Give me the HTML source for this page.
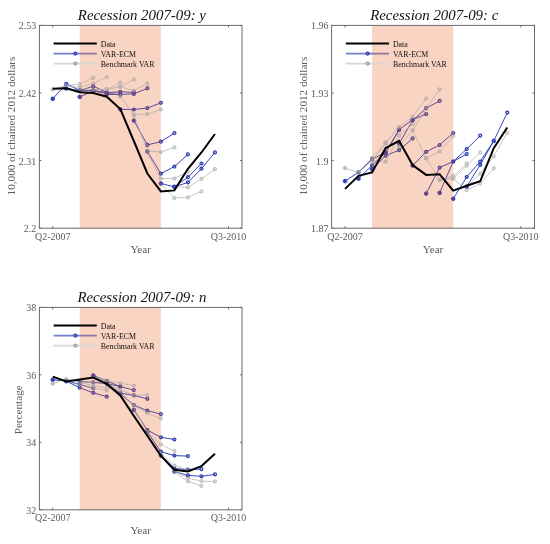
<!DOCTYPE html><html><head><meta charset="utf-8"><style>html,body{margin:0;padding:0;background:#fff;width:550px;height:544px;overflow:hidden}svg{display:block;will-change:transform}text{font-family:"Liberation Serif",serif}</style></head><body>
<svg width="550" height="544" viewBox="0 0 550 544" font-family="Liberation Serif, serif">
<rect width="550" height="544" fill="#fff"/>
<polyline points="52.72,98.80 66.24,83.80 79.76,90.40 93.28,90.50" fill="none" stroke="#3446bf" stroke-width="1"/>
<polyline points="66.24,88.50 79.76,90.60 93.28,86.20 106.80,92.50" fill="none" stroke="#3446bf" stroke-width="1"/>
<polyline points="79.76,96.90 93.28,91.00 106.80,93.60 120.32,94.60" fill="none" stroke="#3446bf" stroke-width="1"/>
<polyline points="93.28,90.40 106.80,92.60 120.32,91.80 133.84,92.40" fill="none" stroke="#3446bf" stroke-width="1"/>
<polyline points="106.80,94.20 120.32,94.40 133.84,93.90 147.36,88.30" fill="none" stroke="#3446bf" stroke-width="1"/>
<polyline points="120.32,109.30 133.84,109.50 147.36,108.10 160.88,102.80" fill="none" stroke="#3446bf" stroke-width="1"/>
<polyline points="133.84,120.60 147.36,144.90 160.88,141.70 174.40,133.10" fill="none" stroke="#3446bf" stroke-width="1"/>
<polyline points="147.36,151.50 160.88,173.70 174.40,166.60 187.92,154.40" fill="none" stroke="#3446bf" stroke-width="1"/>
<polyline points="160.88,183.50 174.40,186.80 187.92,177.20 201.44,163.50" fill="none" stroke="#3446bf" stroke-width="1"/>
<polyline points="174.40,186.80 187.92,182.40 201.44,168.70 214.96,152.40" fill="none" stroke="#3446bf" stroke-width="1"/>
<circle cx="52.72" cy="98.80" r="1.8" fill="#2f3fb0" stroke="#2f3fb0" stroke-width="1"/>
<circle cx="66.24" cy="83.80" r="1.45" fill="none" stroke="#2f3fb0" stroke-width="1.3"/>
<circle cx="79.76" cy="90.40" r="1.45" fill="none" stroke="#2f3fb0" stroke-width="1.3"/>
<circle cx="93.28" cy="90.50" r="1.45" fill="none" stroke="#2f3fb0" stroke-width="1.3"/>
<circle cx="66.24" cy="88.50" r="1.8" fill="#2f3fb0" stroke="#2f3fb0" stroke-width="1"/>
<circle cx="79.76" cy="90.60" r="1.45" fill="none" stroke="#2f3fb0" stroke-width="1.3"/>
<circle cx="93.28" cy="86.20" r="1.45" fill="none" stroke="#2f3fb0" stroke-width="1.3"/>
<circle cx="106.80" cy="92.50" r="1.45" fill="none" stroke="#2f3fb0" stroke-width="1.3"/>
<circle cx="79.76" cy="96.90" r="1.8" fill="#2f3fb0" stroke="#2f3fb0" stroke-width="1"/>
<circle cx="93.28" cy="91.00" r="1.45" fill="none" stroke="#2f3fb0" stroke-width="1.3"/>
<circle cx="106.80" cy="93.60" r="1.45" fill="none" stroke="#2f3fb0" stroke-width="1.3"/>
<circle cx="120.32" cy="94.60" r="1.45" fill="none" stroke="#2f3fb0" stroke-width="1.3"/>
<circle cx="93.28" cy="90.40" r="1.8" fill="#2f3fb0" stroke="#2f3fb0" stroke-width="1"/>
<circle cx="106.80" cy="92.60" r="1.45" fill="none" stroke="#2f3fb0" stroke-width="1.3"/>
<circle cx="120.32" cy="91.80" r="1.45" fill="none" stroke="#2f3fb0" stroke-width="1.3"/>
<circle cx="133.84" cy="92.40" r="1.45" fill="none" stroke="#2f3fb0" stroke-width="1.3"/>
<circle cx="106.80" cy="94.20" r="1.8" fill="#2f3fb0" stroke="#2f3fb0" stroke-width="1"/>
<circle cx="120.32" cy="94.40" r="1.45" fill="none" stroke="#2f3fb0" stroke-width="1.3"/>
<circle cx="133.84" cy="93.90" r="1.45" fill="none" stroke="#2f3fb0" stroke-width="1.3"/>
<circle cx="147.36" cy="88.30" r="1.45" fill="none" stroke="#2f3fb0" stroke-width="1.3"/>
<circle cx="120.32" cy="109.30" r="1.8" fill="#2f3fb0" stroke="#2f3fb0" stroke-width="1"/>
<circle cx="133.84" cy="109.50" r="1.45" fill="none" stroke="#2f3fb0" stroke-width="1.3"/>
<circle cx="147.36" cy="108.10" r="1.45" fill="none" stroke="#2f3fb0" stroke-width="1.3"/>
<circle cx="160.88" cy="102.80" r="1.45" fill="none" stroke="#2f3fb0" stroke-width="1.3"/>
<circle cx="133.84" cy="120.60" r="1.8" fill="#2f3fb0" stroke="#2f3fb0" stroke-width="1"/>
<circle cx="147.36" cy="144.90" r="1.45" fill="none" stroke="#2f3fb0" stroke-width="1.3"/>
<circle cx="160.88" cy="141.70" r="1.45" fill="none" stroke="#2f3fb0" stroke-width="1.3"/>
<circle cx="174.40" cy="133.10" r="1.45" fill="none" stroke="#2f3fb0" stroke-width="1.3"/>
<circle cx="147.36" cy="151.50" r="1.8" fill="#2f3fb0" stroke="#2f3fb0" stroke-width="1"/>
<circle cx="160.88" cy="173.70" r="1.45" fill="none" stroke="#2f3fb0" stroke-width="1.3"/>
<circle cx="174.40" cy="166.60" r="1.45" fill="none" stroke="#2f3fb0" stroke-width="1.3"/>
<circle cx="187.92" cy="154.40" r="1.45" fill="none" stroke="#2f3fb0" stroke-width="1.3"/>
<circle cx="160.88" cy="183.50" r="1.8" fill="#2f3fb0" stroke="#2f3fb0" stroke-width="1"/>
<circle cx="174.40" cy="186.80" r="1.45" fill="none" stroke="#2f3fb0" stroke-width="1.3"/>
<circle cx="187.92" cy="177.20" r="1.45" fill="none" stroke="#2f3fb0" stroke-width="1.3"/>
<circle cx="201.44" cy="163.50" r="1.45" fill="none" stroke="#2f3fb0" stroke-width="1.3"/>
<circle cx="174.40" cy="186.80" r="1.8" fill="#2f3fb0" stroke="#2f3fb0" stroke-width="1"/>
<circle cx="187.92" cy="182.40" r="1.45" fill="none" stroke="#2f3fb0" stroke-width="1.3"/>
<circle cx="201.44" cy="168.70" r="1.45" fill="none" stroke="#2f3fb0" stroke-width="1.3"/>
<circle cx="214.96" cy="152.40" r="1.45" fill="none" stroke="#2f3fb0" stroke-width="1.3"/>
<line x1="53.599999999999994" y1="53.599999999999994" x2="96.8" y2="53.599999999999994" stroke="#6f80d2" stroke-width="1.55"/>
<circle cx="75.4" cy="53.599999999999994" r="1.45" fill="none" stroke="#2f3fb0" stroke-width="1.3"/>
<rect x="79.76" y="25.40" width="81.12" height="202.80" fill="rgb(235,83,15)" fill-opacity="0.25"/>
<g opacity="0.64">
<polyline points="52.72,89.40 66.24,85.60 79.76,84.00 93.28,77.90" fill="none" stroke="#a8a8a8" stroke-width="1"/>
<polyline points="66.24,86.50 79.76,87.10 93.28,83.40 106.80,77.00" fill="none" stroke="#a8a8a8" stroke-width="1"/>
<polyline points="79.76,88.50 93.28,89.70 106.80,89.30 120.32,82.70" fill="none" stroke="#a8a8a8" stroke-width="1"/>
<polyline points="93.28,89.70 106.80,89.30 120.32,86.70 133.84,79.60" fill="none" stroke="#a8a8a8" stroke-width="1"/>
<polyline points="106.80,89.30 120.32,86.70 133.84,90.60 147.36,83.70" fill="none" stroke="#a8a8a8" stroke-width="1"/>
<polyline points="120.32,96.30 133.84,114.50 147.36,114.10 160.88,109.50" fill="none" stroke="#a8a8a8" stroke-width="1"/>
<polyline points="133.84,115.10 147.36,150.90 160.88,152.10 174.40,147.40" fill="none" stroke="#a8a8a8" stroke-width="1"/>
<polyline points="147.36,152.70 160.88,178.50 174.40,178.50 187.92,171.80" fill="none" stroke="#a8a8a8" stroke-width="1"/>
<polyline points="160.88,183.50 174.40,198.00 187.92,197.30 201.44,191.30" fill="none" stroke="#a8a8a8" stroke-width="1"/>
<polyline points="174.40,186.80 187.92,187.40 201.44,178.80 214.96,169.20" fill="none" stroke="#a8a8a8" stroke-width="1"/>
<circle cx="52.72" cy="89.40" r="1.8" fill="#9c9c9c" stroke="#9c9c9c" stroke-width="1"/>
<circle cx="66.24" cy="85.60" r="1.45" fill="none" stroke="#9c9c9c" stroke-width="1.3"/>
<circle cx="79.76" cy="84.00" r="1.45" fill="none" stroke="#9c9c9c" stroke-width="1.3"/>
<circle cx="93.28" cy="77.90" r="1.45" fill="none" stroke="#9c9c9c" stroke-width="1.3"/>
<circle cx="79.76" cy="87.10" r="1.45" fill="none" stroke="#9c9c9c" stroke-width="1.3"/>
<circle cx="93.28" cy="83.40" r="1.45" fill="none" stroke="#9c9c9c" stroke-width="1.3"/>
<circle cx="106.80" cy="77.00" r="1.45" fill="none" stroke="#9c9c9c" stroke-width="1.3"/>
<circle cx="79.76" cy="88.50" r="1.8" fill="#9c9c9c" stroke="#9c9c9c" stroke-width="1"/>
<circle cx="93.28" cy="89.70" r="1.45" fill="none" stroke="#9c9c9c" stroke-width="1.3"/>
<circle cx="106.80" cy="89.30" r="1.45" fill="none" stroke="#9c9c9c" stroke-width="1.3"/>
<circle cx="120.32" cy="82.70" r="1.45" fill="none" stroke="#9c9c9c" stroke-width="1.3"/>
<circle cx="106.80" cy="89.30" r="1.45" fill="none" stroke="#9c9c9c" stroke-width="1.3"/>
<circle cx="120.32" cy="86.70" r="1.45" fill="none" stroke="#9c9c9c" stroke-width="1.3"/>
<circle cx="133.84" cy="79.60" r="1.45" fill="none" stroke="#9c9c9c" stroke-width="1.3"/>
<circle cx="106.80" cy="89.30" r="1.8" fill="#9c9c9c" stroke="#9c9c9c" stroke-width="1"/>
<circle cx="120.32" cy="86.70" r="1.45" fill="none" stroke="#9c9c9c" stroke-width="1.3"/>
<circle cx="133.84" cy="90.60" r="1.45" fill="none" stroke="#9c9c9c" stroke-width="1.3"/>
<circle cx="147.36" cy="83.70" r="1.45" fill="none" stroke="#9c9c9c" stroke-width="1.3"/>
<circle cx="120.32" cy="96.30" r="1.8" fill="#9c9c9c" stroke="#9c9c9c" stroke-width="1"/>
<circle cx="133.84" cy="114.50" r="1.45" fill="none" stroke="#9c9c9c" stroke-width="1.3"/>
<circle cx="147.36" cy="114.10" r="1.45" fill="none" stroke="#9c9c9c" stroke-width="1.3"/>
<circle cx="160.88" cy="109.50" r="1.45" fill="none" stroke="#9c9c9c" stroke-width="1.3"/>
<circle cx="133.84" cy="115.10" r="1.8" fill="#9c9c9c" stroke="#9c9c9c" stroke-width="1"/>
<circle cx="147.36" cy="150.90" r="1.45" fill="none" stroke="#9c9c9c" stroke-width="1.3"/>
<circle cx="160.88" cy="152.10" r="1.45" fill="none" stroke="#9c9c9c" stroke-width="1.3"/>
<circle cx="174.40" cy="147.40" r="1.45" fill="none" stroke="#9c9c9c" stroke-width="1.3"/>
<circle cx="160.88" cy="178.50" r="1.45" fill="none" stroke="#9c9c9c" stroke-width="1.3"/>
<circle cx="174.40" cy="178.50" r="1.45" fill="none" stroke="#9c9c9c" stroke-width="1.3"/>
<circle cx="187.92" cy="171.80" r="1.45" fill="none" stroke="#9c9c9c" stroke-width="1.3"/>
<circle cx="174.40" cy="198.00" r="1.45" fill="none" stroke="#9c9c9c" stroke-width="1.3"/>
<circle cx="187.92" cy="197.30" r="1.45" fill="none" stroke="#9c9c9c" stroke-width="1.3"/>
<circle cx="201.44" cy="191.30" r="1.45" fill="none" stroke="#9c9c9c" stroke-width="1.3"/>
<circle cx="187.92" cy="187.40" r="1.45" fill="none" stroke="#9c9c9c" stroke-width="1.3"/>
<circle cx="201.44" cy="178.80" r="1.45" fill="none" stroke="#9c9c9c" stroke-width="1.3"/>
<circle cx="214.96" cy="169.20" r="1.45" fill="none" stroke="#9c9c9c" stroke-width="1.3"/>
</g>
<line x1="53.599999999999994" y1="63.599999999999994" x2="96.8" y2="63.599999999999994" stroke="#d6d6d6" stroke-width="1.6"/>
<circle cx="75.4" cy="63.599999999999994" r="1.45" fill="none" stroke="#9c9c9c" stroke-width="1.3"/>
<polyline points="52.72,88.80 66.24,88.20 79.76,92.20 93.28,93.00 106.80,96.70 120.32,109.10 133.84,141.00 147.36,173.50 160.88,191.40 174.40,190.40 187.92,168.80 201.44,152.50 214.96,134.00" fill="none" stroke="#000" stroke-width="2.0" stroke-linejoin="miter"/>
<line x1="53.599999999999994" y1="43.599999999999994" x2="96.8" y2="43.599999999999994" stroke="#000" stroke-width="2"/>
<text x="100.69999999999999" y="46.60" font-size="7.9" fill="#111">Data</text>
<text x="100.69999999999999" y="56.60" font-size="7.9" fill="#111">VAR-ECM</text>
<text x="100.69999999999999" y="66.60" font-size="7.9" fill="#111">Benchmark VAR</text>
<rect x="39.40" y="25.40" width="202.60" height="202.80" fill="none" stroke="#6a6a6a" stroke-width="1"/>
<line x1="39.4" y1="228.20" x2="41.4" y2="228.20" stroke="#6a6a6a" stroke-width="1"/>
<line x1="242.0" y1="228.20" x2="240.0" y2="228.20" stroke="#6a6a6a" stroke-width="1"/>
<line x1="39.4" y1="160.60" x2="41.4" y2="160.60" stroke="#6a6a6a" stroke-width="1"/>
<line x1="242.0" y1="160.60" x2="240.0" y2="160.60" stroke="#6a6a6a" stroke-width="1"/>
<line x1="39.4" y1="93.00" x2="41.4" y2="93.00" stroke="#6a6a6a" stroke-width="1"/>
<line x1="242.0" y1="93.00" x2="240.0" y2="93.00" stroke="#6a6a6a" stroke-width="1"/>
<line x1="39.4" y1="25.40" x2="41.4" y2="25.40" stroke="#6a6a6a" stroke-width="1"/>
<line x1="242.0" y1="25.40" x2="240.0" y2="25.40" stroke="#6a6a6a" stroke-width="1"/>
<line x1="52.72" y1="228.2" x2="52.72" y2="226.2" stroke="#6a6a6a" stroke-width="1"/>
<line x1="52.72" y1="25.4" x2="52.72" y2="27.4" stroke="#6a6a6a" stroke-width="1"/>
<line x1="228.48" y1="228.2" x2="228.48" y2="226.2" stroke="#6a6a6a" stroke-width="1"/>
<line x1="228.48" y1="25.4" x2="228.48" y2="27.4" stroke="#6a6a6a" stroke-width="1"/>
<text x="36.20" y="232.10" font-size="10" fill="#5c5c5c" text-anchor="end">2.2</text>
<text x="36.20" y="164.50" font-size="10" fill="#5c5c5c" text-anchor="end">2.31</text>
<text x="36.20" y="96.90" font-size="10" fill="#5c5c5c" text-anchor="end">2.42</text>
<text x="36.20" y="29.30" font-size="10" fill="#5c5c5c" text-anchor="end">2.53</text>
<text x="52.72" y="239.80" font-size="10" fill="#5c5c5c" text-anchor="middle">Q2-2007</text>
<text x="228.48" y="239.80" font-size="10" fill="#5c5c5c" text-anchor="middle">Q3-2010</text>
<text x="140.70" y="252.80" font-size="11.2" fill="#5c5c5c" text-anchor="middle">Year</text>
<text transform="translate(14.80,126.00) rotate(-90)" x="0" y="0" font-size="11.2" fill="#5c5c5c" text-anchor="middle">10,000 of chained 2012 dollars</text>
<text x="141.90" y="19.50" font-size="14.9" font-style="italic" fill="#111" text-anchor="middle">Recession 2007-09: y</text>
<polyline points="345.02,181.10 358.54,172.40 372.06,159.20 385.58,152.50" fill="none" stroke="#3446bf" stroke-width="1"/>
<polyline points="358.54,178.70 372.06,165.40 385.58,152.50 399.10,130.00" fill="none" stroke="#3446bf" stroke-width="1"/>
<polyline points="372.06,169.10 385.58,155.70 399.10,150.20 412.62,138.40" fill="none" stroke="#3446bf" stroke-width="1"/>
<polyline points="385.58,152.60 399.10,129.70 412.62,119.60 426.14,114.10" fill="none" stroke="#3446bf" stroke-width="1"/>
<polyline points="399.10,143.50 412.62,120.50 426.14,108.20 439.66,100.90" fill="none" stroke="#3446bf" stroke-width="1"/>
<polyline points="412.62,165.60 426.14,151.80 439.66,145.00 453.18,133.00" fill="none" stroke="#3446bf" stroke-width="1"/>
<polyline points="426.14,193.60 439.66,167.60 453.18,161.50 466.70,154.10" fill="none" stroke="#3446bf" stroke-width="1"/>
<polyline points="439.66,192.90 453.18,161.50 466.70,149.10 480.22,135.60" fill="none" stroke="#3446bf" stroke-width="1"/>
<polyline points="453.18,198.80 466.70,177.00 480.22,161.50 493.74,140.90" fill="none" stroke="#3446bf" stroke-width="1"/>
<polyline points="466.70,186.60 480.22,164.80 493.74,140.90 507.26,112.60" fill="none" stroke="#3446bf" stroke-width="1"/>
<circle cx="345.02" cy="181.10" r="1.8" fill="#2f3fb0" stroke="#2f3fb0" stroke-width="1"/>
<circle cx="358.54" cy="172.40" r="1.45" fill="none" stroke="#2f3fb0" stroke-width="1.3"/>
<circle cx="372.06" cy="159.20" r="1.45" fill="none" stroke="#2f3fb0" stroke-width="1.3"/>
<circle cx="385.58" cy="152.50" r="1.45" fill="none" stroke="#2f3fb0" stroke-width="1.3"/>
<circle cx="358.54" cy="178.70" r="1.8" fill="#2f3fb0" stroke="#2f3fb0" stroke-width="1"/>
<circle cx="372.06" cy="165.40" r="1.45" fill="none" stroke="#2f3fb0" stroke-width="1.3"/>
<circle cx="385.58" cy="152.50" r="1.45" fill="none" stroke="#2f3fb0" stroke-width="1.3"/>
<circle cx="399.10" cy="130.00" r="1.45" fill="none" stroke="#2f3fb0" stroke-width="1.3"/>
<circle cx="372.06" cy="169.10" r="1.8" fill="#2f3fb0" stroke="#2f3fb0" stroke-width="1"/>
<circle cx="385.58" cy="155.70" r="1.45" fill="none" stroke="#2f3fb0" stroke-width="1.3"/>
<circle cx="399.10" cy="150.20" r="1.45" fill="none" stroke="#2f3fb0" stroke-width="1.3"/>
<circle cx="412.62" cy="138.40" r="1.45" fill="none" stroke="#2f3fb0" stroke-width="1.3"/>
<circle cx="385.58" cy="152.60" r="1.8" fill="#2f3fb0" stroke="#2f3fb0" stroke-width="1"/>
<circle cx="399.10" cy="129.70" r="1.45" fill="none" stroke="#2f3fb0" stroke-width="1.3"/>
<circle cx="412.62" cy="119.60" r="1.45" fill="none" stroke="#2f3fb0" stroke-width="1.3"/>
<circle cx="426.14" cy="114.10" r="1.45" fill="none" stroke="#2f3fb0" stroke-width="1.3"/>
<circle cx="399.10" cy="143.50" r="1.8" fill="#2f3fb0" stroke="#2f3fb0" stroke-width="1"/>
<circle cx="412.62" cy="120.50" r="1.45" fill="none" stroke="#2f3fb0" stroke-width="1.3"/>
<circle cx="426.14" cy="108.20" r="1.45" fill="none" stroke="#2f3fb0" stroke-width="1.3"/>
<circle cx="439.66" cy="100.90" r="1.45" fill="none" stroke="#2f3fb0" stroke-width="1.3"/>
<circle cx="412.62" cy="165.60" r="1.8" fill="#2f3fb0" stroke="#2f3fb0" stroke-width="1"/>
<circle cx="426.14" cy="151.80" r="1.45" fill="none" stroke="#2f3fb0" stroke-width="1.3"/>
<circle cx="439.66" cy="145.00" r="1.45" fill="none" stroke="#2f3fb0" stroke-width="1.3"/>
<circle cx="453.18" cy="133.00" r="1.45" fill="none" stroke="#2f3fb0" stroke-width="1.3"/>
<circle cx="426.14" cy="193.60" r="1.8" fill="#2f3fb0" stroke="#2f3fb0" stroke-width="1"/>
<circle cx="439.66" cy="167.60" r="1.45" fill="none" stroke="#2f3fb0" stroke-width="1.3"/>
<circle cx="453.18" cy="161.50" r="1.45" fill="none" stroke="#2f3fb0" stroke-width="1.3"/>
<circle cx="466.70" cy="154.10" r="1.45" fill="none" stroke="#2f3fb0" stroke-width="1.3"/>
<circle cx="439.66" cy="192.90" r="1.8" fill="#2f3fb0" stroke="#2f3fb0" stroke-width="1"/>
<circle cx="453.18" cy="161.50" r="1.45" fill="none" stroke="#2f3fb0" stroke-width="1.3"/>
<circle cx="466.70" cy="149.10" r="1.45" fill="none" stroke="#2f3fb0" stroke-width="1.3"/>
<circle cx="480.22" cy="135.60" r="1.45" fill="none" stroke="#2f3fb0" stroke-width="1.3"/>
<circle cx="453.18" cy="198.80" r="1.8" fill="#2f3fb0" stroke="#2f3fb0" stroke-width="1"/>
<circle cx="466.70" cy="177.00" r="1.45" fill="none" stroke="#2f3fb0" stroke-width="1.3"/>
<circle cx="480.22" cy="161.50" r="1.45" fill="none" stroke="#2f3fb0" stroke-width="1.3"/>
<circle cx="493.74" cy="140.90" r="1.45" fill="none" stroke="#2f3fb0" stroke-width="1.3"/>
<circle cx="466.70" cy="186.60" r="1.8" fill="#2f3fb0" stroke="#2f3fb0" stroke-width="1"/>
<circle cx="480.22" cy="164.80" r="1.45" fill="none" stroke="#2f3fb0" stroke-width="1.3"/>
<circle cx="493.74" cy="140.90" r="1.45" fill="none" stroke="#2f3fb0" stroke-width="1.3"/>
<circle cx="507.26" cy="112.60" r="1.45" fill="none" stroke="#2f3fb0" stroke-width="1.3"/>
<line x1="345.8" y1="53.599999999999994" x2="389.0" y2="53.599999999999994" stroke="#6f80d2" stroke-width="1.55"/>
<circle cx="367.6" cy="53.599999999999994" r="1.45" fill="none" stroke="#2f3fb0" stroke-width="1.3"/>
<rect x="372.06" y="25.40" width="81.12" height="202.80" fill="rgb(235,83,15)" fill-opacity="0.25"/>
<g opacity="0.64">
<polyline points="345.02,168.00 358.54,172.50 372.06,160.80 385.58,143.30" fill="none" stroke="#a8a8a8" stroke-width="1"/>
<polyline points="358.54,172.00 372.06,157.80 385.58,143.30 399.10,127.00" fill="none" stroke="#a8a8a8" stroke-width="1"/>
<polyline points="372.06,160.80 385.58,161.70 399.10,135.50 412.62,124.20" fill="none" stroke="#a8a8a8" stroke-width="1"/>
<polyline points="385.58,142.60 399.10,127.00 412.62,116.90 426.14,98.50" fill="none" stroke="#a8a8a8" stroke-width="1"/>
<polyline points="399.10,146.50 412.62,130.30 426.14,108.60 439.66,89.30" fill="none" stroke="#a8a8a8" stroke-width="1"/>
<polyline points="412.62,130.30 426.14,158.20 439.66,151.50 453.18,136.20" fill="none" stroke="#a8a8a8" stroke-width="1"/>
<polyline points="426.14,158.20 439.66,180.00 453.18,176.20 466.70,163.40" fill="none" stroke="#a8a8a8" stroke-width="1"/>
<polyline points="439.66,180.00 453.18,178.50 466.70,165.70 480.22,152.40" fill="none" stroke="#a8a8a8" stroke-width="1"/>
<polyline points="453.18,178.50 466.70,190.00 480.22,183.60 493.74,168.40" fill="none" stroke="#a8a8a8" stroke-width="1"/>
<polyline points="466.70,187.00 480.22,173.60 493.74,156.40 507.26,132.80" fill="none" stroke="#a8a8a8" stroke-width="1"/>
<circle cx="345.02" cy="168.00" r="1.8" fill="#9c9c9c" stroke="#9c9c9c" stroke-width="1"/>
<circle cx="358.54" cy="172.50" r="1.45" fill="none" stroke="#9c9c9c" stroke-width="1.3"/>
<circle cx="372.06" cy="160.80" r="1.45" fill="none" stroke="#9c9c9c" stroke-width="1.3"/>
<circle cx="385.58" cy="143.30" r="1.45" fill="none" stroke="#9c9c9c" stroke-width="1.3"/>
<circle cx="358.54" cy="172.00" r="1.8" fill="#9c9c9c" stroke="#9c9c9c" stroke-width="1"/>
<circle cx="372.06" cy="157.80" r="1.45" fill="none" stroke="#9c9c9c" stroke-width="1.3"/>
<circle cx="385.58" cy="143.30" r="1.45" fill="none" stroke="#9c9c9c" stroke-width="1.3"/>
<circle cx="399.10" cy="127.00" r="1.45" fill="none" stroke="#9c9c9c" stroke-width="1.3"/>
<circle cx="372.06" cy="160.80" r="1.8" fill="#9c9c9c" stroke="#9c9c9c" stroke-width="1"/>
<circle cx="385.58" cy="161.70" r="1.45" fill="none" stroke="#9c9c9c" stroke-width="1.3"/>
<circle cx="399.10" cy="135.50" r="1.45" fill="none" stroke="#9c9c9c" stroke-width="1.3"/>
<circle cx="412.62" cy="124.20" r="1.45" fill="none" stroke="#9c9c9c" stroke-width="1.3"/>
<circle cx="385.58" cy="142.60" r="1.8" fill="#9c9c9c" stroke="#9c9c9c" stroke-width="1"/>
<circle cx="399.10" cy="127.00" r="1.45" fill="none" stroke="#9c9c9c" stroke-width="1.3"/>
<circle cx="412.62" cy="116.90" r="1.45" fill="none" stroke="#9c9c9c" stroke-width="1.3"/>
<circle cx="426.14" cy="98.50" r="1.45" fill="none" stroke="#9c9c9c" stroke-width="1.3"/>
<circle cx="399.10" cy="146.50" r="1.8" fill="#9c9c9c" stroke="#9c9c9c" stroke-width="1"/>
<circle cx="412.62" cy="130.30" r="1.45" fill="none" stroke="#9c9c9c" stroke-width="1.3"/>
<circle cx="426.14" cy="108.60" r="1.45" fill="none" stroke="#9c9c9c" stroke-width="1.3"/>
<circle cx="439.66" cy="89.30" r="1.45" fill="none" stroke="#9c9c9c" stroke-width="1.3"/>
<circle cx="412.62" cy="130.30" r="1.8" fill="#9c9c9c" stroke="#9c9c9c" stroke-width="1"/>
<circle cx="426.14" cy="158.20" r="1.45" fill="none" stroke="#9c9c9c" stroke-width="1.3"/>
<circle cx="439.66" cy="151.50" r="1.45" fill="none" stroke="#9c9c9c" stroke-width="1.3"/>
<circle cx="453.18" cy="136.20" r="1.45" fill="none" stroke="#9c9c9c" stroke-width="1.3"/>
<circle cx="426.14" cy="158.20" r="1.8" fill="#9c9c9c" stroke="#9c9c9c" stroke-width="1"/>
<circle cx="439.66" cy="180.00" r="1.45" fill="none" stroke="#9c9c9c" stroke-width="1.3"/>
<circle cx="453.18" cy="176.20" r="1.45" fill="none" stroke="#9c9c9c" stroke-width="1.3"/>
<circle cx="466.70" cy="163.40" r="1.45" fill="none" stroke="#9c9c9c" stroke-width="1.3"/>
<circle cx="439.66" cy="180.00" r="1.8" fill="#9c9c9c" stroke="#9c9c9c" stroke-width="1"/>
<circle cx="453.18" cy="178.50" r="1.45" fill="none" stroke="#9c9c9c" stroke-width="1.3"/>
<circle cx="466.70" cy="165.70" r="1.45" fill="none" stroke="#9c9c9c" stroke-width="1.3"/>
<circle cx="480.22" cy="152.40" r="1.45" fill="none" stroke="#9c9c9c" stroke-width="1.3"/>
<circle cx="453.18" cy="178.50" r="1.8" fill="#9c9c9c" stroke="#9c9c9c" stroke-width="1"/>
<circle cx="466.70" cy="190.00" r="1.45" fill="none" stroke="#9c9c9c" stroke-width="1.3"/>
<circle cx="480.22" cy="183.60" r="1.45" fill="none" stroke="#9c9c9c" stroke-width="1.3"/>
<circle cx="493.74" cy="168.40" r="1.45" fill="none" stroke="#9c9c9c" stroke-width="1.3"/>
<circle cx="480.22" cy="173.60" r="1.45" fill="none" stroke="#9c9c9c" stroke-width="1.3"/>
<circle cx="493.74" cy="156.40" r="1.45" fill="none" stroke="#9c9c9c" stroke-width="1.3"/>
<circle cx="507.26" cy="132.80" r="1.45" fill="none" stroke="#9c9c9c" stroke-width="1.3"/>
</g>
<line x1="345.8" y1="63.599999999999994" x2="389.0" y2="63.599999999999994" stroke="#d6d6d6" stroke-width="1.6"/>
<circle cx="367.6" cy="63.599999999999994" r="1.45" fill="none" stroke="#9c9c9c" stroke-width="1.3"/>
<polyline points="345.02,188.90 358.54,175.80 372.06,172.50 385.58,148.00 399.10,140.80 412.62,165.00 426.14,174.90 439.66,174.30 453.18,190.60 466.70,185.80 480.22,181.30 493.74,148.10 507.26,127.50" fill="none" stroke="#000" stroke-width="2.0" stroke-linejoin="miter"/>
<line x1="345.8" y1="43.599999999999994" x2="389.0" y2="43.599999999999994" stroke="#000" stroke-width="2"/>
<text x="392.90000000000003" y="46.60" font-size="7.9" fill="#111">Data</text>
<text x="392.90000000000003" y="56.60" font-size="7.9" fill="#111">VAR-ECM</text>
<text x="392.90000000000003" y="66.60" font-size="7.9" fill="#111">Benchmark VAR</text>
<rect x="331.60" y="25.40" width="202.90" height="202.80" fill="none" stroke="#6a6a6a" stroke-width="1"/>
<line x1="331.6" y1="228.20" x2="333.6" y2="228.20" stroke="#6a6a6a" stroke-width="1"/>
<line x1="534.5" y1="228.20" x2="532.5" y2="228.20" stroke="#6a6a6a" stroke-width="1"/>
<line x1="331.6" y1="160.60" x2="333.6" y2="160.60" stroke="#6a6a6a" stroke-width="1"/>
<line x1="534.5" y1="160.60" x2="532.5" y2="160.60" stroke="#6a6a6a" stroke-width="1"/>
<line x1="331.6" y1="93.00" x2="333.6" y2="93.00" stroke="#6a6a6a" stroke-width="1"/>
<line x1="534.5" y1="93.00" x2="532.5" y2="93.00" stroke="#6a6a6a" stroke-width="1"/>
<line x1="331.6" y1="25.40" x2="333.6" y2="25.40" stroke="#6a6a6a" stroke-width="1"/>
<line x1="534.5" y1="25.40" x2="532.5" y2="25.40" stroke="#6a6a6a" stroke-width="1"/>
<line x1="345.02" y1="228.2" x2="345.02" y2="226.2" stroke="#6a6a6a" stroke-width="1"/>
<line x1="345.02" y1="25.4" x2="345.02" y2="27.4" stroke="#6a6a6a" stroke-width="1"/>
<line x1="520.78" y1="228.2" x2="520.78" y2="226.2" stroke="#6a6a6a" stroke-width="1"/>
<line x1="520.78" y1="25.4" x2="520.78" y2="27.4" stroke="#6a6a6a" stroke-width="1"/>
<text x="328.40" y="232.10" font-size="10" fill="#5c5c5c" text-anchor="end">1.87</text>
<text x="328.40" y="164.50" font-size="10" fill="#5c5c5c" text-anchor="end">1.9</text>
<text x="328.40" y="96.90" font-size="10" fill="#5c5c5c" text-anchor="end">1.93</text>
<text x="328.40" y="29.30" font-size="10" fill="#5c5c5c" text-anchor="end">1.96</text>
<text x="345.02" y="239.80" font-size="10" fill="#5c5c5c" text-anchor="middle">Q2-2007</text>
<text x="520.78" y="239.80" font-size="10" fill="#5c5c5c" text-anchor="middle">Q3-2010</text>
<text x="433.05" y="252.80" font-size="11.2" fill="#5c5c5c" text-anchor="middle">Year</text>
<text transform="translate(307.00,126.00) rotate(-90)" x="0" y="0" font-size="11.2" fill="#5c5c5c" text-anchor="middle">10,000 of chained 2012 dollars</text>
<text x="434.25" y="19.50" font-size="14.9" font-style="italic" fill="#111" text-anchor="middle">Recession 2007-09: c</text>
<polyline points="52.72,379.80 66.24,380.80 79.76,384.50 93.28,388.30" fill="none" stroke="#3446bf" stroke-width="1"/>
<polyline points="66.24,381.20 79.76,387.70 93.28,392.80 106.80,396.70" fill="none" stroke="#3446bf" stroke-width="1"/>
<polyline points="79.76,381.50 93.28,382.40 106.80,383.60 120.32,386.60" fill="none" stroke="#3446bf" stroke-width="1"/>
<polyline points="93.28,375.50 106.80,381.00 120.32,386.60 133.84,390.10" fill="none" stroke="#3446bf" stroke-width="1"/>
<polyline points="106.80,383.60 120.32,393.20 133.84,395.40 147.36,398.80" fill="none" stroke="#3446bf" stroke-width="1"/>
<polyline points="120.32,394.00 133.84,405.00 147.36,410.70 160.88,414.10" fill="none" stroke="#3446bf" stroke-width="1"/>
<polyline points="133.84,409.80 147.36,430.10 160.88,437.30 174.40,439.50" fill="none" stroke="#3446bf" stroke-width="1"/>
<polyline points="147.36,432.00 160.88,451.70 174.40,455.60 187.92,456.10" fill="none" stroke="#3446bf" stroke-width="1"/>
<polyline points="160.88,455.50 174.40,468.60 187.92,469.50 201.44,469.10" fill="none" stroke="#3446bf" stroke-width="1"/>
<polyline points="174.40,471.50 187.92,475.40 201.44,476.30 214.96,474.40" fill="none" stroke="#3446bf" stroke-width="1"/>
<circle cx="52.72" cy="379.80" r="1.8" fill="#2f3fb0" stroke="#2f3fb0" stroke-width="1"/>
<circle cx="66.24" cy="380.80" r="1.45" fill="none" stroke="#2f3fb0" stroke-width="1.3"/>
<circle cx="79.76" cy="384.50" r="1.45" fill="none" stroke="#2f3fb0" stroke-width="1.3"/>
<circle cx="93.28" cy="388.30" r="1.45" fill="none" stroke="#2f3fb0" stroke-width="1.3"/>
<circle cx="66.24" cy="381.20" r="1.8" fill="#2f3fb0" stroke="#2f3fb0" stroke-width="1"/>
<circle cx="79.76" cy="387.70" r="1.45" fill="none" stroke="#2f3fb0" stroke-width="1.3"/>
<circle cx="93.28" cy="392.80" r="1.45" fill="none" stroke="#2f3fb0" stroke-width="1.3"/>
<circle cx="106.80" cy="396.70" r="1.45" fill="none" stroke="#2f3fb0" stroke-width="1.3"/>
<circle cx="79.76" cy="381.50" r="1.8" fill="#2f3fb0" stroke="#2f3fb0" stroke-width="1"/>
<circle cx="93.28" cy="382.40" r="1.45" fill="none" stroke="#2f3fb0" stroke-width="1.3"/>
<circle cx="106.80" cy="383.60" r="1.45" fill="none" stroke="#2f3fb0" stroke-width="1.3"/>
<circle cx="120.32" cy="386.60" r="1.45" fill="none" stroke="#2f3fb0" stroke-width="1.3"/>
<circle cx="93.28" cy="375.50" r="1.8" fill="#2f3fb0" stroke="#2f3fb0" stroke-width="1"/>
<circle cx="106.80" cy="381.00" r="1.45" fill="none" stroke="#2f3fb0" stroke-width="1.3"/>
<circle cx="120.32" cy="386.60" r="1.45" fill="none" stroke="#2f3fb0" stroke-width="1.3"/>
<circle cx="133.84" cy="390.10" r="1.45" fill="none" stroke="#2f3fb0" stroke-width="1.3"/>
<circle cx="106.80" cy="383.60" r="1.8" fill="#2f3fb0" stroke="#2f3fb0" stroke-width="1"/>
<circle cx="120.32" cy="393.20" r="1.45" fill="none" stroke="#2f3fb0" stroke-width="1.3"/>
<circle cx="133.84" cy="395.40" r="1.45" fill="none" stroke="#2f3fb0" stroke-width="1.3"/>
<circle cx="147.36" cy="398.80" r="1.45" fill="none" stroke="#2f3fb0" stroke-width="1.3"/>
<circle cx="120.32" cy="394.00" r="1.8" fill="#2f3fb0" stroke="#2f3fb0" stroke-width="1"/>
<circle cx="133.84" cy="405.00" r="1.45" fill="none" stroke="#2f3fb0" stroke-width="1.3"/>
<circle cx="147.36" cy="410.70" r="1.45" fill="none" stroke="#2f3fb0" stroke-width="1.3"/>
<circle cx="160.88" cy="414.10" r="1.45" fill="none" stroke="#2f3fb0" stroke-width="1.3"/>
<circle cx="133.84" cy="409.80" r="1.8" fill="#2f3fb0" stroke="#2f3fb0" stroke-width="1"/>
<circle cx="147.36" cy="430.10" r="1.45" fill="none" stroke="#2f3fb0" stroke-width="1.3"/>
<circle cx="160.88" cy="437.30" r="1.45" fill="none" stroke="#2f3fb0" stroke-width="1.3"/>
<circle cx="174.40" cy="439.50" r="1.45" fill="none" stroke="#2f3fb0" stroke-width="1.3"/>
<circle cx="147.36" cy="432.00" r="1.8" fill="#2f3fb0" stroke="#2f3fb0" stroke-width="1"/>
<circle cx="160.88" cy="451.70" r="1.45" fill="none" stroke="#2f3fb0" stroke-width="1.3"/>
<circle cx="174.40" cy="455.60" r="1.45" fill="none" stroke="#2f3fb0" stroke-width="1.3"/>
<circle cx="187.92" cy="456.10" r="1.45" fill="none" stroke="#2f3fb0" stroke-width="1.3"/>
<circle cx="160.88" cy="455.50" r="1.8" fill="#2f3fb0" stroke="#2f3fb0" stroke-width="1"/>
<circle cx="174.40" cy="468.60" r="1.45" fill="none" stroke="#2f3fb0" stroke-width="1.3"/>
<circle cx="187.92" cy="469.50" r="1.45" fill="none" stroke="#2f3fb0" stroke-width="1.3"/>
<circle cx="201.44" cy="469.10" r="1.45" fill="none" stroke="#2f3fb0" stroke-width="1.3"/>
<circle cx="174.40" cy="471.50" r="1.8" fill="#2f3fb0" stroke="#2f3fb0" stroke-width="1"/>
<circle cx="187.92" cy="475.40" r="1.45" fill="none" stroke="#2f3fb0" stroke-width="1.3"/>
<circle cx="201.44" cy="476.30" r="1.45" fill="none" stroke="#2f3fb0" stroke-width="1.3"/>
<circle cx="214.96" cy="474.40" r="1.45" fill="none" stroke="#2f3fb0" stroke-width="1.3"/>
<line x1="53.599999999999994" y1="335.59999999999997" x2="96.8" y2="335.59999999999997" stroke="#6f80d2" stroke-width="1.55"/>
<circle cx="75.4" cy="335.59999999999997" r="1.45" fill="none" stroke="#2f3fb0" stroke-width="1.3"/>
<rect x="79.76" y="307.40" width="81.12" height="202.40" fill="rgb(235,83,15)" fill-opacity="0.25"/>
<g opacity="0.64">
<polyline points="52.72,383.60 66.24,379.10 79.76,382.00 93.28,382.40" fill="none" stroke="#a8a8a8" stroke-width="1"/>
<polyline points="66.24,381.00 79.76,385.10 93.28,388.30 106.80,390.50" fill="none" stroke="#a8a8a8" stroke-width="1"/>
<polyline points="79.76,382.50 93.28,385.50 106.80,388.00 120.32,389.50" fill="none" stroke="#a8a8a8" stroke-width="1"/>
<polyline points="93.28,377.00 106.80,380.30 120.32,383.30 133.84,385.50" fill="none" stroke="#a8a8a8" stroke-width="1"/>
<polyline points="106.80,384.00 120.32,390.30 133.84,395.00 147.36,395.10" fill="none" stroke="#a8a8a8" stroke-width="1"/>
<polyline points="120.32,392.00 133.84,405.60 147.36,413.20 160.88,418.30" fill="none" stroke="#a8a8a8" stroke-width="1"/>
<polyline points="133.84,408.00 147.36,431.80 160.88,444.30 174.40,451.10" fill="none" stroke="#a8a8a8" stroke-width="1"/>
<polyline points="147.36,434.00 160.88,453.70 174.40,465.60 187.92,470.00" fill="none" stroke="#a8a8a8" stroke-width="1"/>
<polyline points="160.88,455.80 174.40,472.20 187.92,481.30 201.44,485.90" fill="none" stroke="#a8a8a8" stroke-width="1"/>
<polyline points="174.40,471.00 187.92,478.10 201.44,481.10 214.96,481.60" fill="none" stroke="#a8a8a8" stroke-width="1"/>
<circle cx="52.72" cy="383.60" r="1.8" fill="#9c9c9c" stroke="#9c9c9c" stroke-width="1"/>
<circle cx="66.24" cy="379.10" r="1.45" fill="none" stroke="#9c9c9c" stroke-width="1.3"/>
<circle cx="79.76" cy="382.00" r="1.45" fill="none" stroke="#9c9c9c" stroke-width="1.3"/>
<circle cx="93.28" cy="382.40" r="1.45" fill="none" stroke="#9c9c9c" stroke-width="1.3"/>
<circle cx="79.76" cy="385.10" r="1.45" fill="none" stroke="#9c9c9c" stroke-width="1.3"/>
<circle cx="93.28" cy="388.30" r="1.45" fill="none" stroke="#9c9c9c" stroke-width="1.3"/>
<circle cx="106.80" cy="390.50" r="1.45" fill="none" stroke="#9c9c9c" stroke-width="1.3"/>
<circle cx="93.28" cy="385.50" r="1.45" fill="none" stroke="#9c9c9c" stroke-width="1.3"/>
<circle cx="106.80" cy="388.00" r="1.45" fill="none" stroke="#9c9c9c" stroke-width="1.3"/>
<circle cx="120.32" cy="389.50" r="1.45" fill="none" stroke="#9c9c9c" stroke-width="1.3"/>
<circle cx="106.80" cy="380.30" r="1.45" fill="none" stroke="#9c9c9c" stroke-width="1.3"/>
<circle cx="120.32" cy="383.30" r="1.45" fill="none" stroke="#9c9c9c" stroke-width="1.3"/>
<circle cx="133.84" cy="385.50" r="1.45" fill="none" stroke="#9c9c9c" stroke-width="1.3"/>
<circle cx="120.32" cy="390.30" r="1.45" fill="none" stroke="#9c9c9c" stroke-width="1.3"/>
<circle cx="133.84" cy="395.00" r="1.45" fill="none" stroke="#9c9c9c" stroke-width="1.3"/>
<circle cx="147.36" cy="395.10" r="1.45" fill="none" stroke="#9c9c9c" stroke-width="1.3"/>
<circle cx="133.84" cy="405.60" r="1.45" fill="none" stroke="#9c9c9c" stroke-width="1.3"/>
<circle cx="147.36" cy="413.20" r="1.45" fill="none" stroke="#9c9c9c" stroke-width="1.3"/>
<circle cx="160.88" cy="418.30" r="1.45" fill="none" stroke="#9c9c9c" stroke-width="1.3"/>
<circle cx="147.36" cy="431.80" r="1.45" fill="none" stroke="#9c9c9c" stroke-width="1.3"/>
<circle cx="160.88" cy="444.30" r="1.45" fill="none" stroke="#9c9c9c" stroke-width="1.3"/>
<circle cx="174.40" cy="451.10" r="1.45" fill="none" stroke="#9c9c9c" stroke-width="1.3"/>
<circle cx="160.88" cy="453.70" r="1.45" fill="none" stroke="#9c9c9c" stroke-width="1.3"/>
<circle cx="174.40" cy="465.60" r="1.45" fill="none" stroke="#9c9c9c" stroke-width="1.3"/>
<circle cx="187.92" cy="470.00" r="1.45" fill="none" stroke="#9c9c9c" stroke-width="1.3"/>
<circle cx="174.40" cy="472.20" r="1.45" fill="none" stroke="#9c9c9c" stroke-width="1.3"/>
<circle cx="187.92" cy="481.30" r="1.45" fill="none" stroke="#9c9c9c" stroke-width="1.3"/>
<circle cx="201.44" cy="485.90" r="1.45" fill="none" stroke="#9c9c9c" stroke-width="1.3"/>
<circle cx="187.92" cy="478.10" r="1.45" fill="none" stroke="#9c9c9c" stroke-width="1.3"/>
<circle cx="201.44" cy="481.10" r="1.45" fill="none" stroke="#9c9c9c" stroke-width="1.3"/>
<circle cx="214.96" cy="481.60" r="1.45" fill="none" stroke="#9c9c9c" stroke-width="1.3"/>
</g>
<line x1="53.599999999999994" y1="345.59999999999997" x2="96.8" y2="345.59999999999997" stroke="#d6d6d6" stroke-width="1.6"/>
<circle cx="75.4" cy="345.59999999999997" r="1.45" fill="none" stroke="#9c9c9c" stroke-width="1.3"/>
<polyline points="52.72,376.60 66.24,381.50 79.76,379.50 93.28,377.50 106.80,383.90 120.32,395.50 133.84,415.90 147.36,435.80 160.88,455.80 174.40,469.80 187.92,471.50 201.44,466.10 214.96,453.70" fill="none" stroke="#000" stroke-width="2.0" stroke-linejoin="miter"/>
<line x1="53.599999999999994" y1="325.59999999999997" x2="96.8" y2="325.59999999999997" stroke="#000" stroke-width="2"/>
<text x="100.69999999999999" y="328.60" font-size="7.9" fill="#111">Data</text>
<text x="100.69999999999999" y="338.60" font-size="7.9" fill="#111">VAR-ECM</text>
<text x="100.69999999999999" y="348.60" font-size="7.9" fill="#111">Benchmark VAR</text>
<rect x="39.40" y="307.40" width="202.60" height="202.40" fill="none" stroke="#6a6a6a" stroke-width="1"/>
<line x1="39.4" y1="509.80" x2="41.4" y2="509.80" stroke="#6a6a6a" stroke-width="1"/>
<line x1="242.0" y1="509.80" x2="240.0" y2="509.80" stroke="#6a6a6a" stroke-width="1"/>
<line x1="39.4" y1="442.33" x2="41.4" y2="442.33" stroke="#6a6a6a" stroke-width="1"/>
<line x1="242.0" y1="442.33" x2="240.0" y2="442.33" stroke="#6a6a6a" stroke-width="1"/>
<line x1="39.4" y1="374.87" x2="41.4" y2="374.87" stroke="#6a6a6a" stroke-width="1"/>
<line x1="242.0" y1="374.87" x2="240.0" y2="374.87" stroke="#6a6a6a" stroke-width="1"/>
<line x1="39.4" y1="307.40" x2="41.4" y2="307.40" stroke="#6a6a6a" stroke-width="1"/>
<line x1="242.0" y1="307.40" x2="240.0" y2="307.40" stroke="#6a6a6a" stroke-width="1"/>
<line x1="52.72" y1="509.8" x2="52.72" y2="507.8" stroke="#6a6a6a" stroke-width="1"/>
<line x1="52.72" y1="307.4" x2="52.72" y2="309.4" stroke="#6a6a6a" stroke-width="1"/>
<line x1="228.48" y1="509.8" x2="228.48" y2="507.8" stroke="#6a6a6a" stroke-width="1"/>
<line x1="228.48" y1="307.4" x2="228.48" y2="309.4" stroke="#6a6a6a" stroke-width="1"/>
<text x="36.20" y="513.70" font-size="10" fill="#5c5c5c" text-anchor="end">32</text>
<text x="36.20" y="446.23" font-size="10" fill="#5c5c5c" text-anchor="end">34</text>
<text x="36.20" y="378.77" font-size="10" fill="#5c5c5c" text-anchor="end">36</text>
<text x="36.20" y="311.30" font-size="10" fill="#5c5c5c" text-anchor="end">38</text>
<text x="52.72" y="521.40" font-size="10" fill="#5c5c5c" text-anchor="middle">Q2-2007</text>
<text x="228.48" y="521.40" font-size="10" fill="#5c5c5c" text-anchor="middle">Q3-2010</text>
<text x="140.70" y="534.40" font-size="11.2" fill="#5c5c5c" text-anchor="middle">Year</text>
<text transform="translate(22.20,409.80) rotate(-90)" x="0" y="0" font-size="11.2" fill="#5c5c5c" text-anchor="middle">Percentage</text>
<text x="141.90" y="301.50" font-size="14.9" font-style="italic" fill="#111" text-anchor="middle">Recession 2007-09: n</text>
</svg></body></html>
